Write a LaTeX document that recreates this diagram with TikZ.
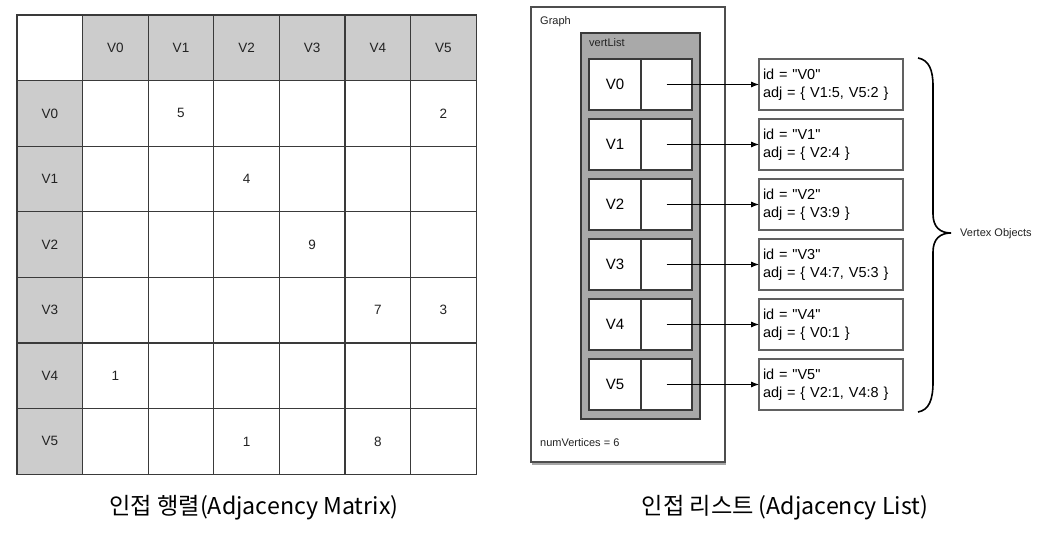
\documentclass[tikz,border=0pt]{standalone}
\usepackage{fontspec}
\setmainfont{Liberation Sans}[Ligatures=TeXOff]
\newfontfamily\krfont{Noto Sans CJK KR}
\usetikzlibrary{arrows.meta,shadows}
\definecolor{hdr}{HTML}{CCCCCC}
\definecolor{vl}{HTML}{A9A9A9}
\definecolor{ln}{HTML}{3A3A3A}
\definecolor{txt}{HTML}{222222}
\begin{document}
\begin{tikzpicture}[x=1pt,y=-1pt,
  mcell/.style={draw=ln,line width=1.3pt,minimum width=65.6pt,minimum height=65.6pt,inner sep=0pt,outer sep=0pt,text=txt,font=\fontsize{13.5}{15}\selectfont},
  hcell/.style={mcell,fill=hdr},
  val/.style={text=txt,font=\fontsize{13.5}{15}\selectfont,inner sep=0pt},
  small/.style={text=txt,font=\fontsize{11}{13}\selectfont,inner sep=0pt,anchor=west},
  lcell/.style={draw=ln,fill=white,line width=1.2pt,minimum width=52pt,minimum height=51pt,inner sep=0pt,outer sep=0pt,font=\fontsize{15}{17}\selectfont},
  rcell/.style={draw=ln,fill=white,line width=1.2pt,minimum width=51pt,minimum height=51pt,inner sep=0pt,outer sep=0pt},
  obj/.style={draw=ln!80,line width=1.2pt,minimum width=144pt,minimum height=51pt,text width=136pt,inner xsep=4pt,inner ysep=0pt,outer sep=0pt,align=left,font=\fontsize{14.5}{18}\selectfont},
  arr/.style={-{Latex[length=8pt,width=6pt]},line width=0.9pt,draw=black},
  caption/.style={font=\krfont\fontsize{23.2}{27}\selectfont,inner sep=0pt}
]
\useasboundingbox (0,0) rectangle (1052,537);
% ---------------- adjacency matrix ----------------
\node[mcell,fill=white] (m-0-0) at ({17+65.6*0.5},{15+65.6*0.5}) {};
\foreach \i [evaluate=\i as \k using int(\i-1)] in {1,...,6}{
  \node[hcell] (m-\i-0) at ({17+65.6*(\i+0.5)},{15+65.6*0.5}) {V\k};
  \node[hcell] (m-0-\i) at ({17+65.6*0.5},{15+65.6*(\i+0.5)}) {V\k};
}
\foreach \i in {1,...,6}{
  \foreach \j in {1,...,6}{
    \node[mcell] (m-\i-\j) at ({17+65.6*(\i+0.5)},{15+65.6*(\j+0.5)}) {};
  }
}
\node[val] (e01) at (m-2-1) {5};
\node[val] (e05) at (m-6-1) {2};
\node[val] (e12) at (m-3-2) {4};
\node[val] (e23) at (m-4-3) {9};
\node[val] (e34) at (m-5-4) {7};
\node[val] (e35) at (m-6-4) {3};
\node[val] (e40) at (m-1-5) {1};
\node[val] (e52) at (m-3-6) {1};
\node[val] (e54) at (m-5-6) {8};
\node[caption] (capL) at (254,508) {인접 행렬(Adjacency Matrix)};
% ---------------- adjacency list ----------------
\node[draw=ln!90,line width=1.2pt,fill=white,minimum width=194pt,minimum height=455pt,inner sep=0pt,
  drop shadow={shadow xshift=1pt,shadow yshift=-3pt,opacity=0.35,fill=black}] (graph) at (628,234.5) {};
\node[small] (glabel) at (540,22) {Graph};
\node[draw=ln,line width=1.2pt,fill=vl,minimum width=119pt,minimum height=386pt,inner sep=0pt] (vlist) at (640.5,226) {};
\node[small] (vlabel) at (589,43) {vertList};
\node[small] (numv) at (540,443) {numVertices = 6};
\foreach \k/\id/\adj in {0/V0/{V1:5, V5:2},1/V1/{V2:4},2/V2/{V3:9},3/V3/{V4:7, V5:3},4/V4/{V0:1},5/V5/{V2:1, V4:8}}{
  \node[lcell] (l\k) at (615,{84.5+60*\k}) {\id};
  \node[rcell] (r\k) at (666.5,{84.5+60*\k}) {};
  \node[obj] (o\k) at (831,{84.5+60*\k}) {id = "\id"\\adj = \{ \adj\ \}};
  \draw[arr] (r\k.center) -- (o\k.west);
}
\draw[line width=1.6pt] (918,58) .. controls (929,60) and (933,70) .. (933,86) -- (933,214)
  .. controls (933,227) and (940,233) .. (951,233)
  .. controls (940,233) and (933,239) .. (933,252) -- (933,382)
  .. controls (933,400) and (929,410) .. (918,412);
\node[small] (vobj) at (960,234) {Vertex Objects};
\node[caption] (capR) at (785,508) {인접 리스트 (Adjacency List)};
\end{tikzpicture}
\end{document}
